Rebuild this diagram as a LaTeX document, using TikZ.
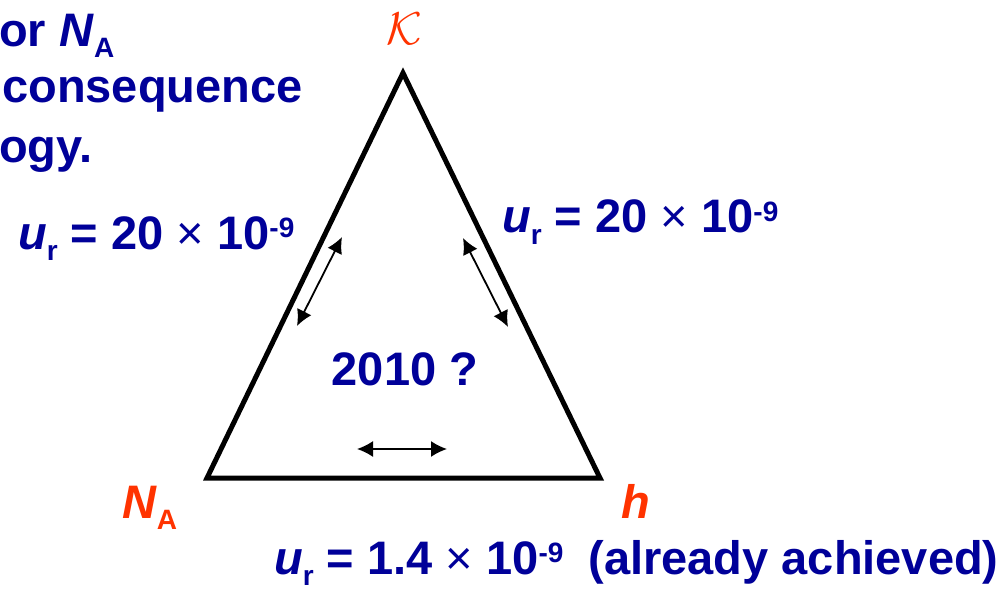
\documentclass[tikz,border=0pt]{standalone}
\usepackage{fontspec}
\setmainfont{Liberation Sans}
\usetikzlibrary{arrows.meta,positioning}
\definecolor{slideblue}{RGB}{0,0,153}
\definecolor{slidered}{RGB}{255,51,0}
\newcommand{\lowtxt}[1]{\raisebox{-11pt}{\fontsize{28}{28}\selectfont #1}}
\newcommand{\hightxt}[1]{\raisebox{12pt}{\fontsize{28}{28}\selectfont #1}}
\newcommand{\urel}{\textit{u}\lowtxt{r}}
\newcommand{\tms}{{\mdseries ×}}

\begin{document}
\begin{tikzpicture}[x=1pt,y=-1pt,
    txt/.style={inner sep=0pt, anchor=base west, text=slideblue, font=\fontsize{47}{47}\selectfont\bfseries},
    vtx/.style={txt, text=slidered},
    link/.style={{Latex[length=16pt,width=16pt]}-{Latex[length=16pt,width=16pt]}, line width=1.8pt}]
  \useasboundingbox (0,0) rectangle (1007,591);
  % --- heading, cut off at the left
  \node[txt] (l1) at (-1,47) {or \textit{N}\lowtxt{A}};
  \node[txt] (l2) at (2,103) {consequence};
  \node[txt] (l3) at (-1,163) {ogy.};
  % --- the triangle
  \coordinate (K) at (403,73);
  \coordinate (NA) at (207,478);
  \coordinate (h) at (600,478);
  \draw[line width=5pt, line join=miter] (K) -- (NA) -- (h) -- cycle;
  \node[text=slidered, scale=4.6, inner sep=0pt] (Klab) at (404,29) {$\mathcal{K}$};
  \node[vtx] (NAlab) at (122,518) {\textit{N}\lowtxt{A}};
  \node[vtx] (hlab) at (621,518) {\textit{h}};
  % --- links between the constants
  \coordinate (a1) at (342,237); \coordinate (a2) at (297,326);
  \coordinate (b1) at (463,238); \coordinate (b2) at (508,327);
  \coordinate (c1) at (357,449); \coordinate (c2) at (447,449);
  \foreach \s/\e in {a1/a2, b1/b2, c1/c2}
    \draw[link] (\s) -- (\e);
  % --- uncertainties
  \node[txt] (uleft) at (18,249) {\urel{} = 20 \tms{} 10\hightxt{-9}};
  \node[txt] (uright) at (502,233) {\urel{} = 20 \tms{} 10\hightxt{-9}};
  \node[txt] (ubottom) at (274,574) {\urel{} = 1.4 \tms{} 10\hightxt{-9}\hspace{12pt} (already achieved)};
  \node[txt, anchor=base] (year) at (405,385) {2010 ?};
\end{tikzpicture}
\end{document}
